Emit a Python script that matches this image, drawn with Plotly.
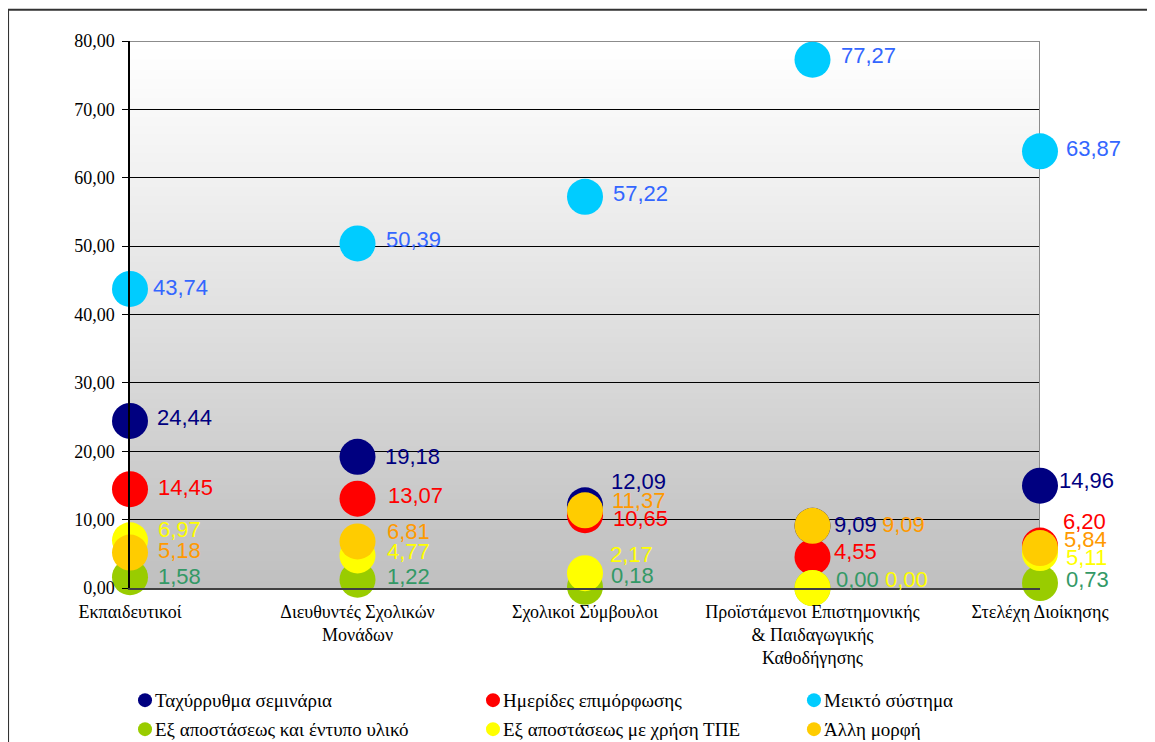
import base64, struct, zlib
import plotly.graph_objects as go

categories = ["Εκπαιδευτικοί", "Διευθυντές Σχολικών<br>Μονάδων", "Σχολικοί Σύμβουλοι",
              "Προϊστάμενοι Επιστημονικής<br>& Παιδαγωγικής<br>Καθοδήγησης", "Στελέχη Διοίκησης"]

series_names = ["Ταχύρρυθμα σεμινάρια", "Ημερίδες επιμόρφωσης", "Μεικτό σύστημα",
                "Εξ αποστάσεως και έντυπο υλικό", "Εξ αποστάσεως με χρήση ΤΠΕ", "Άλλη μορφή"]

tax_seminaria = [24.44, 19.18, 12.09, 9.09, 14.96]
imerides = [14.45, 13.07, 10.65, 4.55, 6.20]
meikto = [43.74, 50.39, 57.22, 77.27, 63.87]
entypo = [1.58, 1.22, 0.18, 0.00, 0.73]
tpe = [6.97, 4.77, 2.17, 0.00, 5.11]
alli = [5.18, 6.81, 11.37, 9.09, 5.84]

y_ticks = [0, 10, 20, 30, 40, 50, 60, 70, 80]

series_values = [tax_seminaria, imerides, meikto, entypo, tpe, alli]
marker_colors = ["#000080", "#ff0000", "#00ccff", "#99cc00", "#ffff00", "#ffcc00"]
label_colors = ["#000080", "#ff0000", "#3366ff", "#339966", "#ffff00", "#ff9900"]

# label nudges (pixels): [series][category] -> (xshift, yshift)
label_shift = [
    [(25, 3), (25, 0), (24, 24), (19, 1), (17, 5)],
    [(26, 2), (28, 3), (26, -3), (19, 5), (21, 24)],
    [(21, 1), (26, 4), (26, 3), (26, 4), (24, 3)],
    [(26, 1), (27, 3), (24, 11), (21, 9), (24, 4)],
    [(26, 11), (27, 4), (23, 19), (70, 9), (24, -4)],
    [(26, 2), (27, 10), (25, 10), (67, 1), (22, 9)],
]

# legend layout (paper coordinates): 3 columns x 2 rows
legend_cols = [0.0165, 0.3989, 0.7516]
legend_rows = [-0.205, -0.258]

# background gradient image (white top -> grey bottom)
def gradient_png():
    h = 256
    rows = b""
    for r in range(h):
        t = r / (h - 1)  # 0 top, 1 bottom
        if t < 0.85:
            g = 255 - (255 - 200) * (t / 0.85) ** 1.1
        else:
            g = 200 - 8 * (t - 0.85) / 0.15
        rows += b"\x00" + bytes([int(round(g))])
    def chunk(tag, data):
        c = struct.pack(">I", len(data)) + tag + data
        return c + struct.pack(">I", zlib.crc32(tag + data) & 0xffffffff)
    png = b"\x89PNG\r\n\x1a\n"
    png += chunk(b"IHDR", struct.pack(">IIBBBBB", 1, h, 8, 0, 0, 0, 0))
    png += chunk(b"IDAT", zlib.compress(rows))
    png += chunk(b"IEND", b"")
    return "data:image/png;base64," + base64.b64encode(png).decode()

serif = "Liberation Serif, Times New Roman"
xs = list(range(len(categories)))
fig = go.Figure()
annotations = []
legend_shapes = []
for si, (name, vals) in enumerate(zip(series_names, series_values)):
    fig.add_trace(go.Scatter(
        x=xs, y=vals, mode="markers", name=name, cliponaxis=False, showlegend=False,
        marker=dict(size=36, color=marker_colors[si], line=dict(width=0)),
    ))
    for ci, v in enumerate(vals):
        dx, dy = label_shift[si][ci]
        annotations.append(dict(
            x=ci, y=v, xref="x", yref="y", text=f"{v:.2f}".replace(".", ","),
            showarrow=False, xanchor="left", yanchor="middle", xshift=dx, yshift=dy,
            font=dict(family="Liberation Sans, Arial", size=22, color=label_colors[si]),
        ))
    # legend entry
    lx = legend_cols[si % 3]
    ly = legend_rows[si // 3]
    legend_shapes.append(dict(
        type="circle", xref="paper", yref="paper", xsizemode="pixel", ysizemode="pixel",
        xanchor=lx, yanchor=ly, x0=-7, x1=7, y0=-7, y1=7,
        fillcolor=marker_colors[si], line=dict(width=0), layer="above"))
    annotations.append(dict(
        x=lx, y=ly, xref="paper", yref="paper", text=name, showarrow=False,
        xanchor="left", yanchor="middle", xshift=8,
        font=dict(family=serif, size=19, color="black")))

fig.update_layout(
    width=1147, height=734,
    margin=dict(l=122, r=115, t=33, b=154),
    paper_bgcolor="white", plot_bgcolor="white",
    separators=",.",
    showlegend=False,
    xaxis=dict(range=[0, 4], tickmode="array", tickvals=xs, ticktext=categories,
               showgrid=False, zeroline=False, showline=True, linecolor="#404040", linewidth=2,
               ticks="", ticklabelstandoff=6,
               tickfont=dict(family=serif, size=18, color="black")),
    yaxis=dict(range=[0, 80], tickmode="array", tickvals=y_ticks, tickformat=".2f",
               showgrid=True, gridcolor="black", gridwidth=1, zeroline=False,
               showline=True, linecolor="black", linewidth=1.5,
               ticks="outside", ticklen=6, tickcolor="black", ticklabelstandoff=4,
               tickfont=dict(family=serif, size=18, color="black")),
    annotations=annotations,
    images=[dict(source=gradient_png(), xref="x", yref="y", x=0, y=80, sizex=4, sizey=80,
                 sizing="stretch", layer="below", xanchor="left", yanchor="top")],
    shapes=[
        dict(type="line", xref="x", yref="y", x0=0, x1=4, y0=80, y1=80,
             line=dict(color="#8c8c8c", width=2), layer="between"),
        dict(type="line", xref="x", yref="y", x0=4, x1=4, y0=0, y1=80,
             line=dict(color="#8c8c8c", width=2), layer="between"),
        dict(type="rect", xref="paper", yref="paper", x0=-0.134, x1=1.3, y0=-0.5, y1=1.057,
             line=dict(color="#333333", width=2), fillcolor="rgba(0,0,0,0)", layer="above"),
    ] + legend_shapes,
)

fig.write_html("out.html")
